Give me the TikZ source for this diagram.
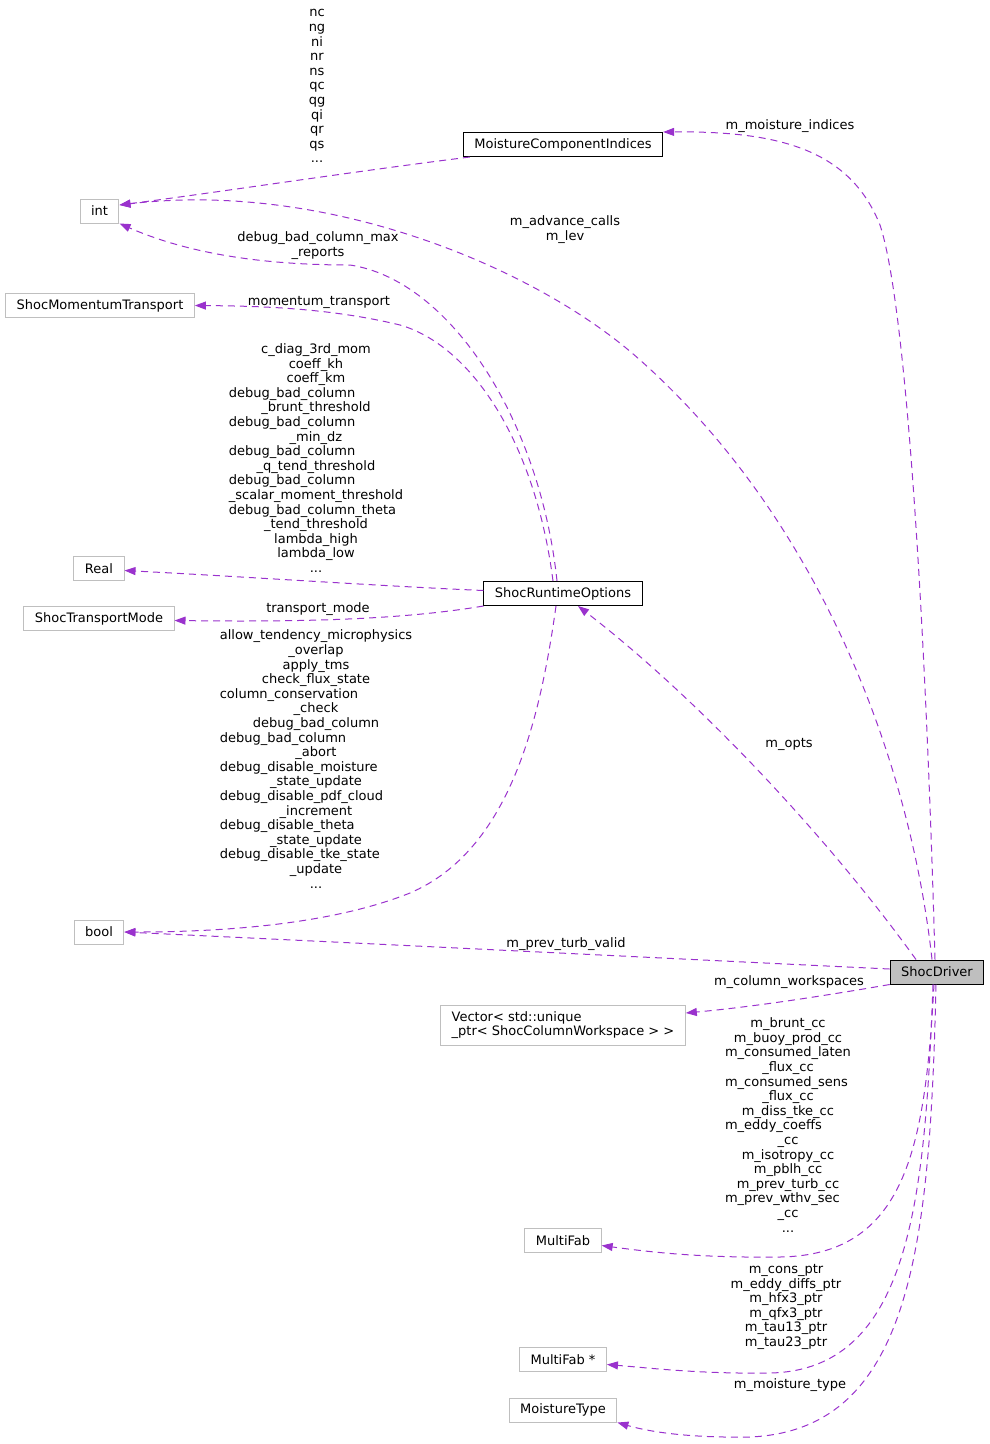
\documentclass[tikz,border=0pt]{standalone}
\usepackage{fontspec}
\setmainfont{DejaVu Sans}
\usetikzlibrary{arrows.meta}
\definecolor{edgec}{HTML}{9A32CD}
\definecolor{grayb}{HTML}{BFBFBF}
\newcommand{\dfont}{\fontsize{13}{14.6}\selectfont}
\newcommand{\lft}[1]{\multicolumn{1}{@{}l@{}}{#1}}
\newcommand{\lbl}[1]{\begin{tabular}{@{}c@{}}#1\end{tabular}}
\tikzset{
  cls/.style={draw=grayb, fill=white, font=\dfont, inner xsep=11pt, inner ysep=0pt, minimum height=24pt, line width=1pt},
  doc/.style={cls, draw=black},
  edge/.style={draw=edgec, dash pattern=on 7pt off 5pt, line width=1pt, -{Triangle[length=11pt,width=8pt,fill=edgec]}},
  lab/.style={font=\dfont, inner sep=0pt},
}
\begin{document}
\begin{tikzpicture}[x=1pt,y=-1pt]
\useasboundingbox (0,0) rectangle (989,1444);
% nodes
\node[doc] (mci) at (563,144.5) {MoistureComponentIndices};
\node[cls] (int) at (99.5,211) {int};
\node[cls] (mom) at (100,305.5) {ShocMomentumTransport};
\node[cls] (real) at (99,568.5) {Real};
\node[cls] (stm) at (99,618.5) {ShocTransportMode};
\node[doc] (opts) at (563,593.5) {ShocRuntimeOptions};
\node[cls] (bool) at (99,932) {bool};
\node[doc, fill=grayb] (drv) at (937,972) {ShocDriver};
\node[cls, align=left, minimum height=40pt] (vec) at (563,1025) {Vector< std::unique\\\_ptr< ShocColumnWorkspace > >};
\node[cls] (mf) at (563,1240.5) {MultiFab};
\node[cls] (mfp) at (563,1359.5) {MultiFab *};
\node[cls] (mt) at (563,1410) {MoistureType};
% edges
\draw[edge] ([xshift=7pt]mci.south west) .. controls (350,172) and (220,192) .. ([yshift=6pt]int.east);
\draw[edge] ([xshift=-5pt]drv.north) .. controls (910,760) and (820,520) .. (640,360) .. controls (540,270) and (330,180) .. ([yshift=6pt]int.east);
\draw[edge] ([xshift=-6pt]opts.north) .. controls (540,420) and (450,280) .. (350,265) .. controls (250,265) and (180,250) .. (int.south east);
\draw[edge] ([xshift=-10pt]opts.north) .. controls (535,440) and (470,345) .. (400,325) .. controls (330,308) and (260,306) .. (mom.east);
\draw[edge] ([yshift=3pt]opts.west) .. controls (380,586) and (250,577) .. ([yshift=-2pt]real.east);
\draw[edge] (opts.south west) .. controls (400,620) and (300,622) .. ([yshift=-2pt]stm.east);
\draw[edge] ([xshift=-7pt]opts.south) .. controls (540,720) and (510,850) .. (410,893) .. controls (330,925) and (220,932) .. (bool.east);
\draw[edge] ([xshift=-2pt]drv.north) .. controls (925,600) and (905,300) .. (880,225) .. controls (850,150) and (780,131) .. (mci.north east);
\draw[edge] ([xshift=-21pt]drv.north) .. controls (830,840) and (700,700) .. ([xshift=15pt]opts.south);
\draw[edge] ([yshift=3pt]drv.west) .. controls (700,960) and (400,945) .. (bool.east);
\draw[edge] (drv.south west) .. controls (800,1000) and (740,1008) .. ([yshift=12pt]vec.east);
\draw[edge] ([xshift=-3pt]drv.south) .. controls (925,1150) and (905,1255) .. (780,1257) .. controls (700,1258) and (650,1252) .. ([yshift=-5pt]mf.east);
\draw[edge] ([xshift=-4pt]drv.south) .. controls (925,1200) and (910,1370) .. (770,1373) .. controls (700,1374) and (650,1368) .. ([yshift=-5pt]mfp.east);
\draw[edge] ([xshift=-1pt]drv.south) .. controls (930,1250) and (910,1430) .. (750,1437) .. controls (690,1438) and (650,1432) .. (mt.south east);
% labels
\node[lab] (l1) at (317,87) {\lbl{nc\\ng\\ni\\nr\\ns\\qc\\qg\\qi\\qr\\qs\\...}};
\node[lab] (l2) at (565,230) {\lbl{m\_advance\_calls\\m\_lev}};
\node[lab] (l3) at (318,246) {\lbl{debug\_bad\_column\_max\\\_reports}};
\node[lab] (l4) at (319,302) {momentum\_transport};
\node[lab] (l5) at (316,460) {\lbl{c\_diag\_3rd\_mom\\coeff\_kh\\coeff\_km\\\lft{debug\_bad\_column}\\\_brunt\_threshold\\\lft{debug\_bad\_column}\\\_min\_dz\\\lft{debug\_bad\_column}\\\_q\_tend\_threshold\\\lft{debug\_bad\_column}\\\_scalar\_moment\_threshold\\\lft{debug\_bad\_column\_theta}\\\_tend\_threshold\\lambda\_high\\lambda\_low\\...}};
\node[lab] (l6) at (318,609) {transport\_mode};
\node[lab] (l7) at (316,761) {\lbl{\lft{allow\_tendency\_microphysics}\\\_overlap\\apply\_tms\\check\_flux\_state\\\lft{column\_conservation}\\\_check\\debug\_bad\_column\\\lft{debug\_bad\_column}\\\_abort\\\lft{debug\_disable\_moisture}\\\_state\_update\\\lft{debug\_disable\_pdf\_cloud}\\\_increment\\\lft{debug\_disable\_theta}\\\_state\_update\\\lft{debug\_disable\_tke\_state}\\\_update\\...}};
\node[lab] (l8) at (790,126) {m\_moisture\_indices};
\node[lab] (l9) at (789,744) {m\_opts};
\node[lab] (l10) at (566,944) {m\_prev\_turb\_valid};
\node[lab] (l11) at (789,982) {m\_column\_workspaces};
\node[lab] (l12) at (788,1127) {\lbl{m\_brunt\_cc\\m\_buoy\_prod\_cc\\\lft{m\_consumed\_laten}\\\_flux\_cc\\\lft{m\_consumed\_sens}\\\_flux\_cc\\m\_diss\_tke\_cc\\\lft{m\_eddy\_coeffs}\\\_cc\\m\_isotropy\_cc\\m\_pblh\_cc\\m\_prev\_turb\_cc\\\lft{m\_prev\_wthv\_sec}\\\_cc\\...}};
\node[lab] (l13) at (786,1307) {\lbl{m\_cons\_ptr\\m\_eddy\_diffs\_ptr\\m\_hfx3\_ptr\\m\_qfx3\_ptr\\m\_tau13\_ptr\\m\_tau23\_ptr}};
\node[lab] (l14) at (790,1385) {m\_moisture\_type};
\end{tikzpicture}
\end{document}
